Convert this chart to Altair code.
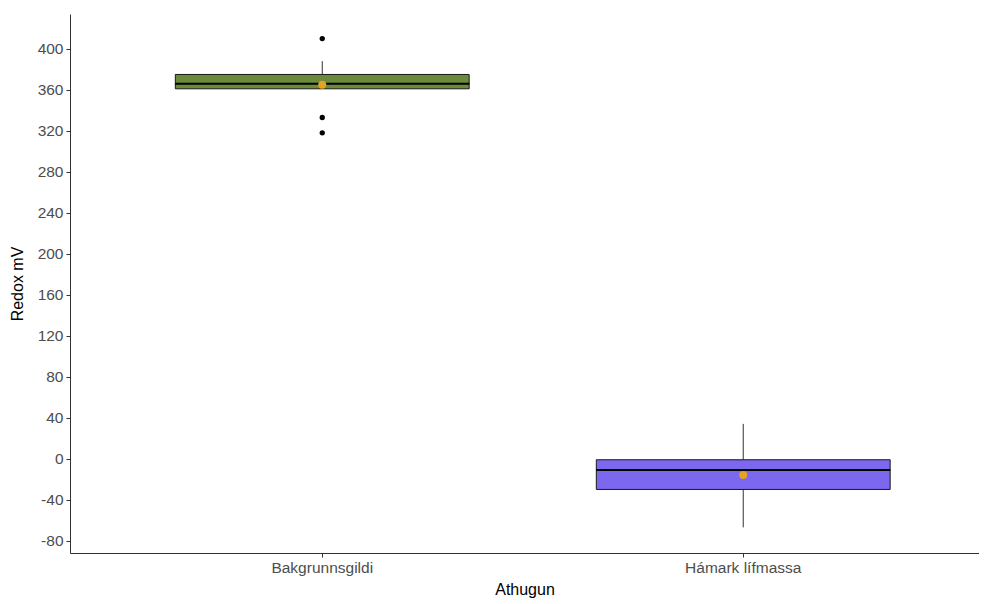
import altair as alt
import pandas as pd

categories = ["Bakgrunnsgildi", "Hámark lífmassa"]
q1 = [361, -30]
median = [366, -11]
q3 = [375, -1]
whisker_low = [361, -67]
whisker_high = [388, 34]
means = [365, -16]
box_colors = ["#6B8A3A", "#7B68EE"]

outlier_cat = ["Bakgrunnsgildi", "Bakgrunnsgildi", "Bakgrunnsgildi"]
outlier_val = [410, 333, 318]

y_ticks = [-80, -40, 0, 40, 80, 120, 160, 200, 240, 280, 320, 360, 400]

stats = pd.DataFrame({
    "cat": categories, "q1": q1, "median": median, "q3": q3,
    "lo": whisker_low, "hi": whisker_high, "mean": means,
})
outl = pd.DataFrame({"cat": outlier_cat, "val": outlier_val})

FONT = "Liberation Sans"

xscale = alt.Scale(domain=categories, paddingInner=0.302, paddingOuter=0.2306,
                   align=0.5425, round=False)
yscale = alt.Scale(domain=[-92, 434], nice=False, zero=False)

x_enc = alt.X("cat:N", scale=xscale, sort=categories,
              axis=alt.Axis(title="Athugun", labelAngle=0))
y_axis = alt.Axis(title="Redox mV", values=y_ticks, labelExpr="toString(datum.value)")

base = alt.Chart(stats)

wh_up = base.mark_rule(color="#333333", strokeWidth=1).encode(
    x=x_enc, y=alt.Y("q3:Q", scale=yscale, axis=y_axis), y2="hi:Q")
wh_lo = base.mark_rule(color="#333333", strokeWidth=1).encode(
    x=x_enc, y=alt.Y("lo:Q", scale=yscale), y2="q1:Q")

box = base.mark_bar(stroke="#1a1a1a", strokeWidth=1, opacity=1).encode(
    x=x_enc,
    y=alt.Y("q1:Q", scale=yscale),
    y2="q3:Q",
    color=alt.Color("cat:N", scale=alt.Scale(domain=categories, range=box_colors), legend=None),
)

med = base.mark_tick(color="#000000", thickness=2, size=294, opacity=1).encode(
    x=x_enc, y=alt.Y("median:Q", scale=yscale))

out = alt.Chart(outl).mark_circle(color="#000000", size=28, opacity=1).encode(
    x=x_enc, y=alt.Y("val:Q", scale=yscale))

mean_pt = base.mark_circle(color="#E6A321", size=64, opacity=1).encode(
    x=x_enc, y=alt.Y("mean:Q", scale=yscale))

chart = alt.layer(wh_up, wh_lo, box, med, out, mean_pt).properties(
    width=909, height=539,
    autosize=alt.AutoSizeParams(type="none"),
    padding={"left": 62, "top": 6, "right": 0, "bottom": 50},
).configure_view(stroke=None).configure_axis(
    grid=False,
    domainColor="#333333",
    domainWidth=1,
    tickColor="#333333",
    tickSize=4,
    labelFont=FONT,
    labelFontSize=15.5,
    labelColor="#4d4d4d",
    titleFont=FONT,
    titleFontSize=16,
    titleFontWeight="normal",
    titleColor="#000000",
    labelPadding=3,
).configure_axisX(titlePadding=6).configure_axisY(titlePadding=12)

chart.save("out.html", embed_options={"renderer": "svg", "actions": False})
